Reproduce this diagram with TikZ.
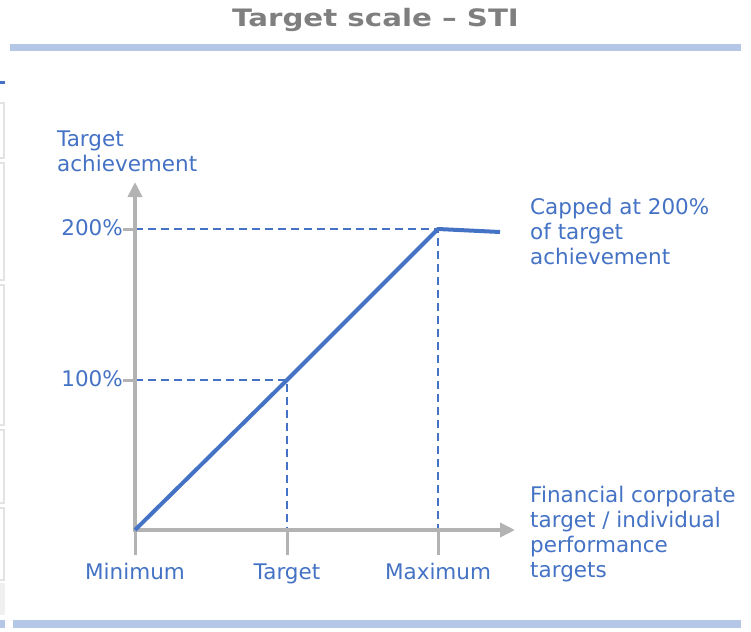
\documentclass[tikz,border=0pt]{standalone}
\usepackage{fontspec}
\setmainfont{DejaVu Sans}
\usetikzlibrary{arrows.meta,positioning}
\definecolor{chartblue}{HTML}{4472C4}
\definecolor{bandblue}{HTML}{B4C7E7}
\definecolor{axisgray}{HTML}{B3B3B3}
\definecolor{titlegray}{HTML}{7F7F7F}
\definecolor{cellgray}{HTML}{E3E3E3}

\begin{document}
\begin{tikzpicture} [
		x=1pt, y=-1pt,
		title/.style = {text=titlegray, font=\bfseries\fontsize{24}{28}\selectfont, inner sep=0pt},
		lbl/.style   = {text=chartblue, font=\fontsize{21.5}{25}\selectfont, inner sep=0pt, align=left},
		axis/.style  = {draw=axisgray, line width=3.5pt, -{Triangle[length=15pt, width=14pt]}},
		tick/.style  = {draw=axisgray, line width=3pt},
		guide/.style = {draw=chartblue, line width=2.8pt, dash pattern=on 8pt off 5pt},
		curve/.style = {draw=chartblue, line width=4pt, line join=round},
		band/.style  = {fill=bandblue, draw=none},
		cell/.style  = {draw=cellgray, line width=1.5pt},
	]
	\useasboundingbox (0,0) rectangle (751,631);
	% frame of the slide
	\node [title, anchor=base] (title) at (375.5,27) {\scalebox{1.22}[1]{Target scale -- STI}};
	\fill [band] (10,44) rectangle (741,51);
	\fill [band] (13,620) rectangle (741,628);
	\fill [band] (0,620) rectangle (5,628);
	\fill [chartblue] (0,81) rectangle (5,84);
	\foreach \ya/\yb in {103/158, 163/280, 285/425, 430/503, 508/580}
		\draw [cell] (-3,\ya) rectangle (4,\yb);
	\fill [black!6] (0,583) rectangle (5,615);
	% points of the chart
	\coordinate (origin) at (135,530);
	\coordinate (ytop)   at (135,182);
	\coordinate (xend)   at (515,530);
	\coordinate (pTarget) at (287,380);
	\coordinate (pMax)    at (438,229);
	\coordinate (pCap)    at (500,232);
	% guides
	\begin{scope} [every path/.style=guide]
		\path (origin |- pTarget) -- (pTarget) -- (pTarget |- origin);
		\path (origin |- pMax) -- (pMax) -- (pMax |- origin);
	\end{scope}
	% axes and ticks
	\path [axis] (origin) -- (ytop);
	\path [axis] ([xshift=-1.75pt]origin) -- (xend);
	\begin{scope} [every path/.style=tick]
		\path ([xshift=-12pt]origin |- pMax) coordinate (t200) -- (origin |- pMax);
		\path ([xshift=-12pt]origin |- pTarget) coordinate (t100) -- (origin |- pTarget);
		\path (origin) -- ++(0,25) coordinate (tMin);
		\path (pTarget |- origin) -- ++(0,25) coordinate (tTarget);
		\path (pMax |- origin) -- ++(0,25) coordinate (tMax);
	\end{scope}
	% target line
	\path [curve] (origin) -- (pTarget) -- (pMax) -- (pCap);
	% labels
	\node [lbl, anchor=east] (l200) at ([yshift=1pt]t200) {200\%};
	\node [lbl, anchor=east] (l100) at ([yshift=1pt]t100) {100\%};
	\node [lbl, anchor=north west] (yname) at (57,131) {Target\\achievement};
	\node [lbl, anchor=base] (lMin) at (135,579) {Minimum};
	\node [lbl, anchor=base] (lTarget) at (287,579) {Target};
	\node [lbl, anchor=base] (lMax) at (438,579) {Maximum};
	\node [lbl, anchor=north west] (capnote) at (530,198) {Capped at 200\%\\of target\\achievement};
	\node [lbl, anchor=north west] (xname) at (530,486) {Financial corporate\\target / individual\\performance\\targets};
\end{tikzpicture}
\end{document}
